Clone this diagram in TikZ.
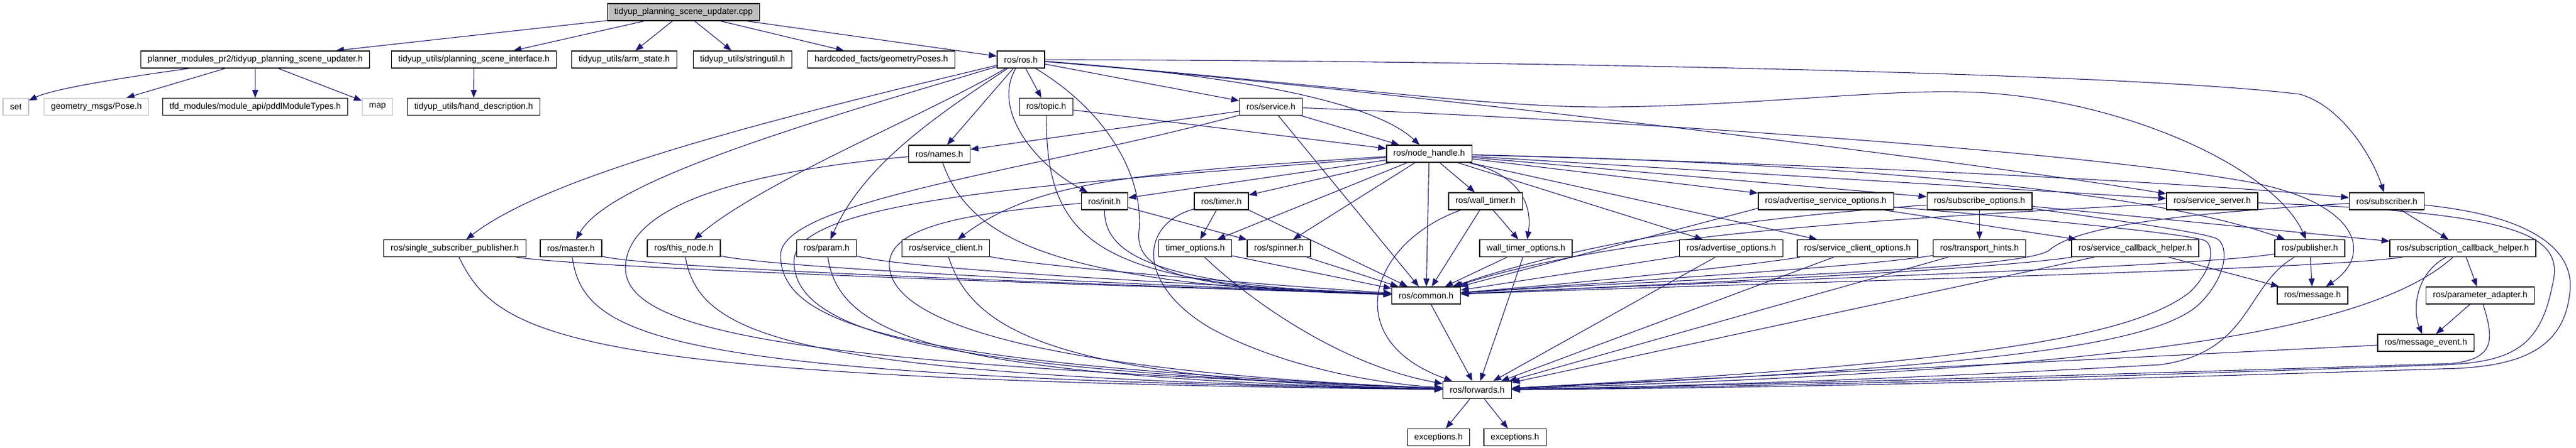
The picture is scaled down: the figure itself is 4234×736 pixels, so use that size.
\documentclass[tikz,border=0pt]{standalone}
\usepackage{fontspec}
\setmainfont{Liberation Sans}
\usepackage{xcolor}
\usepackage{tikz}
\usetikzlibrary{arrows.meta}
\usetikzlibrary{backgrounds}
\definecolor{edgeblue}{RGB}{25,25,112}
\definecolor{grey75}{HTML}{BFBFBF}
\tikzset{
    hdr/.style = {draw=black, fill=white, line width=1.4pt, inner xsep=11.35pt, inner ysep=0pt,
                  minimum height=28pt, font=\fontsize{14.2}{17}\selectfont},
    missing/.style = {hdr, draw=grey75},
    srcfile/.style = {hdr, fill=grey75},
    dep/.style = {edgeblue, line width=1.1pt, ->, >={Triangle[length=13pt,width=10pt]}}
}

\begin{document}
\begin{tikzpicture}[x=1pt, y=-1pt]
    \useasboundingbox (0,0) rectangle (4234,736);
    \node[srcfile] (root) at (1123.5,20) {tidyup\_planning\_scene\_updater.cpp};
    \node[hdr] (pmod) at (419.5,98) {planner\_modules\_pr2/tidyup\_planning\_scene\_updater.h};
    \node[hdr] (psi) at (779,98) {tidyup\_utils/planning\_scene\_interface.h};
    \node[hdr] (arm) at (1026,98) {tidyup\_utils/arm\_state.h};
    \node[hdr] (strutil) at (1220.5,98) {tidyup\_utils/stringutil.h};
    \node[hdr] (geoposes) at (1448.5,98) {hardcoded\_facts/geometryPoses.h};
    \node[hdr] (rosh) at (1678,98) {ros/ros.h};
    \node[missing] (set) at (26,175.5) {set};
    \node[missing] (pose) at (158.5,175.5) {geometry\_msgs/Pose.h};
    \node[hdr] (pddl) at (419.5,175.5) {tfd\_modules/module\_api/pddlModuleTypes.h};
    \node[missing] (map) at (620.5,175.5) {map};
    \node[hdr] (hand) at (778.5,175.5) {tidyup\_utils/hand\_description.h};
    \node[hdr] (topic) at (1719.5,175.5) {ros/topic.h};
    \node[hdr] (service) at (2089,175.5) {ros/service.h};
    \node[hdr] (names) at (1544,253) {ros/names.h};
    \node[hdr] (nh) at (2349,253) {ros/node\_handle.h};
    \node[hdr] (init) at (1815.5,331) {ros/init.h};
    \node[hdr] (timer) at (2007.5,331) {ros/timer.h};
    \node[hdr] (walltimer) at (2441.5,331) {ros/wall\_timer.h};
    \node[hdr] (advsrvopts) at (3001,331) {ros/advertise\_service\_options.h};
    \node[hdr] (subopts) at (3253.5,331) {ros/subscribe\_options.h};
    \node[hdr] (srvserver) at (3636,331) {ros/service\_server.h};
    \node[hdr] (subscriber) at (3923,331) {ros/subscriber.h};
    \node[hdr] (ssp) at (747.5,408.5) {ros/single\_subscriber\_publisher.h};
    \node[hdr] (master) at (938.5,408.5) {ros/master.h};
    \node[hdr] (thisnode) at (1124,408.5) {ros/this\_node.h};
    \node[hdr] (param) at (1358.5,408.5) {ros/param.h};
    \node[hdr] (srvclient) at (1554.5,408.5) {ros/service\_client.h};
    \node[hdr] (timeropts) at (1964.5,408.5) {timer\_options.h};
    \node[hdr] (spinner) at (2102,408.5) {ros/spinner.h};
    \node[hdr] (walltimeropts) at (2508,408.5) {wall\_timer\_options.h};
    \node[hdr] (advopts) at (2845.5,408.5) {ros/advertise\_options.h};
    \node[hdr] (srvclientopts) at (3053,408.5) {ros/service\_client\_options.h};
    \node[hdr] (transport) at (3253.5,408.5) {ros/transport\_hints.h};
    \node[hdr] (srvcbhelper) at (3509.5,408.5) {ros/service\_callback\_helper.h};
    \node[hdr] (publisher) at (3796.5,408.5) {ros/publisher.h};
    \node[hdr] (subcbhelper) at (4048,408.5) {ros/subscription\_callback\_helper.h};
    \node[hdr] (common) at (2344,486) {ros/common.h};
    \node[hdr] (message) at (3801,486) {ros/message.h};
    \node[hdr] (paramadapter) at (4076.5,486) {ros/parameter\_adapter.h};
    \node[hdr] (msgevent) at (3987,564) {ros/message\_event.h};
    \node[hdr] (forwards) at (2428,641.5) {ros/forwards.h};
    \node[hdr] (exc1) at (2364.5,719.5) {exceptions.h};
    \node[hdr] (exc2) at (2490,719.5) {exceptions.h};

    \begin{scope}[on background layer]
    \foreach \a/\b in {root/pmod, root/psi, root/arm, root/strutil, root/geoposes, root/rosh,
        pmod/pose, pmod/pddl, pmod/map, psi/hand, rosh/names, rosh/topic, rosh/service,
        topic/nh, service/names, service/nh, service/common,
        nh/init, nh/timer, nh/timeropts, nh/spinner, nh/common, nh/walltimer, nh/advopts,
        nh/srvclientopts, nh/advsrvopts, nh/subopts, nh/srvserver,
        init/spinner, timer/timeropts, walltimer/common, walltimer/walltimeropts,
        walltimeropts/common, walltimeropts/forwards, timeropts/common, spinner/common,
        advopts/common, advopts/forwards, srvclientopts/forwards,
        advsrvopts/srvcbhelper, subopts/transport, subopts/subcbhelper,
        transport/forwards, srvcbhelper/forwards, srvcbhelper/message,
        subscriber/subcbhelper, publisher/message, subcbhelper/paramadapter,
        paramadapter/msgevent, msgevent/forwards, common/forwards, forwards/exc1, forwards/exc2} {
      \draw[dep] (\a) -- (\b);
    }
    \draw[dep] (timer.south east) -- (common);
    \draw[dep] ([yshift=3pt]advsrvopts.south west) -- (common);

    \draw[dep] (pmod) .. controls (220,125) and (90,145) .. (set);
    \draw[dep] (rosh) .. controls (1250,200) and (900,290) .. (ssp);
    \draw[dep] (rosh) .. controls (1300,210) and (1000,300) .. (master);
    \draw[dep] (rosh) .. controls (1520,190) and (1250,300) .. (thisnode);
    \draw[dep] (rosh) .. controls (1540,190) and (1420,270) .. (param);
    \draw[dep] (rosh) .. controls (1630,180) and (1700,270) .. (init);
    \draw[dep] (rosh) .. controls (1830,190) and (1880,300) .. (1872,380) .. controls (1865,450) and (1950,475) .. (common);
    \draw[dep] (rosh) .. controls (2050,125) and (2260,170) .. (nh);
    \draw[dep] (rosh) .. controls (2200,140) and (2450,178) .. (2650,176) .. controls (2900,173) and (3100,145) .. (3250,152) .. controls (3500,165) and (3740,280) .. (publisher);
    \draw[dep] (rosh) .. controls (2500,100) and (3500,120) .. (3780,155) .. controls (3850,175) and (3900,260) .. (subscriber);
    \draw[dep] (rosh) .. controls (2300,150) and (3200,260) .. (srvserver);
    \draw[dep] (topic) .. controls (1720,400) and (1800,470) .. (common);
    \draw[dep] (service) .. controls (1700,280) and (1283,330) .. (1283,420) .. controls (1283,540) and (1500,600) .. (forwards);
    \draw[dep] (service) .. controls (2600,195) and (3400,245) .. (3700,300) .. controls (3880,335) and (3900,420) .. (message);
    \draw[dep] (names) .. controls (1590,380) and (1700,470) .. (common);
    \draw[dep] (names) .. controls (1250,280) and (1030,330) .. (1028,440) .. controls (1026,560) and (1400,600) .. (forwards);
    \draw[dep] (nh) .. controls (1800,300) and (1305,320) .. (1305,430) .. controls (1305,560) and (1600,610) .. (forwards);
    \draw[dep] (nh) .. controls (1850,285) and (1700,300) .. (srvclient);
    \draw[dep] (nh) .. controls (2490,285) and (2520,330) .. (walltimeropts);
    \draw[dep] (nh) .. controls (3100,270) and (3550,320) .. (publisher);
    \draw[dep] (nh) .. controls (3000,270) and (3600,300) .. (subscriber);
    \draw[dep] (init) .. controls (1600,350) and (1455,370) .. (1462,440) .. controls (1470,530) and (1700,610) .. (forwards);
    \draw[dep] (init) .. controls (1815,420) and (1900,470) .. (common);
    \draw[dep] (timer) .. controls (1870,370) and (1870,470) .. (1990,540) .. controls (2100,600) and (2250,630) .. (forwards);
    \draw[dep] (walltimer) .. controls (2250,400) and (2200,560) .. (forwards);
    \draw[dep] (timeropts) .. controls (2050,490) and (2200,600) .. (forwards);
    \draw[dep] (srvclient) .. controls (1720,440) and (2100,470) .. (common);
    \draw[dep] (srvclient) .. controls (1600,550) and (1750,625) .. (forwards);
    \draw[dep] (param) .. controls (1500,445) and (2050,472) .. (common);
    \draw[dep] (param) .. controls (1380,555) and (1550,622) .. (forwards);
    \draw[dep] (thisnode) .. controls (1300,445) and (2000,473) .. (common);
    \draw[dep] (thisnode) .. controls (1150,555) and (1300,620) .. (forwards);
    \draw[dep] (master) .. controls (1080,445) and (2000,474) .. (common);
    \draw[dep] (master) .. controls (960,560) and (1100,620) .. (forwards);
    \draw[dep] (ssp) .. controls (1000,445) and (2000,475) .. (common);
    \draw[dep] (ssp) .. controls (820,560) and (950,625) .. (forwards);
    \draw[dep] (srvclientopts) .. controls (2850,440) and (2600,465) .. (common);
    \draw[dep] (subopts) .. controls (2850,360) and (2600,400) .. (common);
    \draw[dep] (transport) .. controls (3050,440) and (2700,460) .. (common);
    \draw[dep] (srvcbhelper) .. controls (3250,445) and (2800,465) .. (common);
    \draw[dep] (publisher) .. controls (3600,440) and (2900,460) .. (common);
    \draw[dep] (subcbhelper) .. controls (3800,445) and (2900,465) .. (common);
    \draw[dep] (advsrvopts) .. controls (3400,365) and (3590,385) .. (3622,395) .. controls (3640,401) and (3640,440) .. (3600,480) .. controls (3500,560) and (3200,600) .. (forwards);
    \draw[dep] (subopts) .. controls (3500,365) and (3620,383) .. (3642,392) .. controls (3662,400) and (3665,450) .. (3615,500) .. controls (3540,570) and (3250,605) .. (forwards);
    \draw[dep] (srvserver) .. controls (3000,365) and (2650,390) .. (common);
    \draw[dep] (srvserver) .. controls (4160,350) and (4215,390) .. (4195,470) .. controls (4175,570) and (4130,595) .. (4020,600) .. controls (3600,615) and (3000,635) .. (forwards);
    \draw[dep] (subscriber) .. controls (3600,350) and (3420,370) .. (3370,410) .. controls (3340,445) and (2800,455) .. (common);
    \draw[dep] (subscriber) .. controls (4160,355) and (4232,410) .. (4224,480) .. controls (4215,570) and (4150,600) .. (4040,606) .. controls (3600,620) and (3000,638) .. (forwards);
    \draw[dep] (publisher) .. controls (3690,470) and (3700,580) .. (3550,600) .. controls (3200,620) and (2800,635) .. (forwards);
    \draw[dep] (subcbhelper) .. controls (3970,450) and (3965,510) .. (msgevent);
    \draw[dep] (subcbhelper) .. controls (3880,560) and (3400,610) .. (forwards);
    \draw[dep] (paramadapter) .. controls (4100,560) and (4100,590) .. (4030,598) .. controls (3600,612) and (2900,633) .. (forwards);
    \end{scope}
\end{tikzpicture}
\end{document}
